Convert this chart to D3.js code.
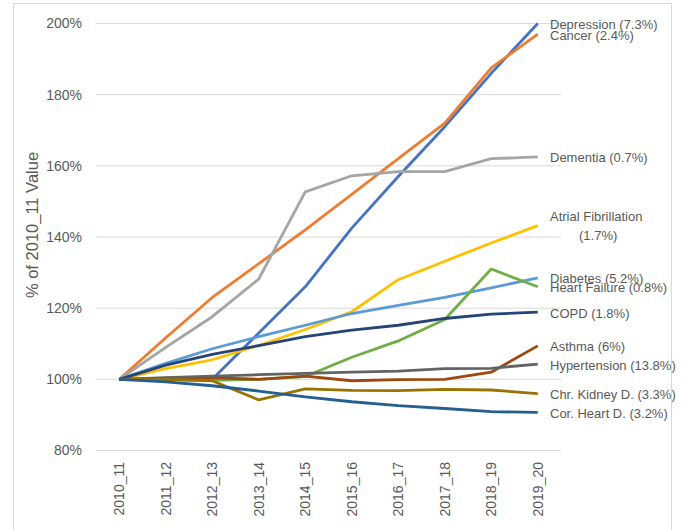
<!DOCTYPE html>
<html>
<head>
<meta charset="utf-8">
<script src="https://cdn.jsdelivr.net/npm/d3@7"></script>
<style>
  body { margin: 0; background: #fff; }
  text { font-family: "Liberation Sans", Arial, sans-serif; fill: #595959; }
</style>
</head>
<body>
<script>
const years = ['2010_11', '2011_12', '2012_13', '2013_14', '2014_15', '2015_16', '2016_17', '2017_18', '2018_19', '2019_20'];
const yTicks = [80, 100, 120, 140, 160, 180, 200];

const depression = [100, 100, 100, 113, 126, 142.5, 157, 171, 186, 200];
const cancer = [100, 111.7, 123, 132.5, 142, 152, 162, 172, 187.5, 197];
const dementia = [100, 109, 117.6, 128.2, 152.7, 157.2, 158.4, 158.4, 162, 162.5];
const atrialFib = [100, 103, 105.5, 109.5, 114, 119, 128, 133.2, 138.3, 143.2];
const diabetes = [100, 104.5, 108.6, 112, 115.2, 118.5, 120.8, 123, 125.7, 128.5];
const heartFailure = [100, 100, 99.7, 100, 100.8, 106.2, 110.8, 116.8, 131, 126];
const copd = [100, 104, 107, 109.5, 112, 113.8, 115.2, 117.1, 118.3, 118.9];
const asthma = [100, 100.3, 100.5, 100, 100.9, 99.6, 99.9, 100, 102, 109.4];
const hypertension = [100, 100.5, 100.9, 101.3, 101.7, 102, 102.3, 103, 103.1, 104.3];
const kidney = [100, 99.9, 99.6, 94.2, 97.3, 96.9, 96.8, 97.2, 97.0, 96.0];
const corHeart = [100, 99.3, 98.2, 96.7, 95.1, 93.7, 92.6, 91.8, 90.9, 90.7];

const series = [
  { name: ['Depression (7.3%)'], values: depression, color: '#4472C4' },
  { name: ['Cancer (2.4%)'], values: cancer, color: '#ED7D31' },
  { name: ['Dementia (0.7%)'], values: dementia, color: '#A5A5A5' },
  { name: ['Atrial Fibrillation', '(1.7%)'], values: atrialFib, color: '#FFC000' },
  { name: ['Diabetes (5.2%)'], values: diabetes, color: '#5B9BD5' },
  { name: ['Heart Failure (0.8%)'], values: heartFailure, color: '#70AD47' },
  { name: ['COPD (1.8%)'], values: copd, color: '#264478' },
  { name: ['Asthma (6%)'], values: asthma, color: '#9E480E' },
  { name: ['Hypertension (13.8%)'], values: hypertension, color: '#636363' },
  { name: ['Chr. Kidney D. (3.3%)'], values: kidney, color: '#997300' },
  { name: ['Cor. Heart D. (3.2%)'], values: corHeart, color: '#255E91' }
];

const WIDTH = 681, HEIGHT = 530;

const svg = d3.select('body').append('svg')
  .attr('width', WIDTH)
  .attr('height', HEIGHT);

// chart border
svg.append('rect')
  .attr('x', 13.5).attr('y', 3.5)
  .attr('width', 658).attr('height', 540)
  .attr('fill', 'none')
  .attr('stroke', '#D9D9D9');

const x = d3.scaleBand().domain(years).range([96, 561]);
const y = d3.scaleLinear().domain([80, 200]).range([450.5, 23.5]);
const cx = (d) => x(d) + x.bandwidth() / 2;

// gridlines
svg.append('g')
  .selectAll('line')
  .data(yTicks)
  .join('line')
  .attr('x1', 96).attr('x2', 561)
  .attr('y1', (d) => y(d)).attr('y2', (d) => y(d))
  .attr('stroke', '#D9D9D9')
  .attr('stroke-width', 1);

// y tick labels
svg.append('g')
  .selectAll('text')
  .data(yTicks)
  .join('text')
  .attr('x', 82)
  .attr('y', (d) => y(d))
  .attr('dy', '0.35em')
  .attr('text-anchor', 'end')
  .style('font-size', '14px')
  .text((d) => d + '%');

// x tick labels
svg.append('g')
  .selectAll('text')
  .data(years)
  .join('text')
  .attr('transform', (d) => `translate(${cx(d)}, 462) rotate(-90)`)
  .attr('dy', '0.35em')
  .attr('text-anchor', 'end')
  .style('font-size', '14px')
  .text((d) => d);

// y axis title
svg.append('text')
  .attr('transform', 'translate(32, 225) rotate(-90)')
  .attr('dy', '0.35em')
  .attr('text-anchor', 'middle')
  .style('font-size', '16.5px')
  .text('% of 2010_11 Value');

const line = d3.line()
  .x((d, i) => cx(years[i]))
  .y((d) => y(d));

svg.append('g')
  .selectAll('path')
  .data(series)
  .join('path')
  .attr('d', (d) => line(d.values))
  .attr('fill', 'none')
  .attr('stroke', (d) => d.color)
  .attr('stroke-width', 2.8)
  .attr('stroke-linejoin', 'round');

// end labels
const labels = svg.append('g')
  .selectAll('text')
  .data(series)
  .join('text')
  .attr('x', 550)
  .attr('y', (d) => y(d.values[d.values.length - 1]) + 1)
  .style('font-size', '13px');

labels.each(function (d) {
  const t = d3.select(this);
  if (d.name.length === 1) {
    t.append('tspan').attr('dy', '0.35em').text(d.name[0]);
  } else {
    t.append('tspan').attr('dy', '-0.4em').text(d.name[0]);
    t.append('tspan').attr('x', 579).attr('dy', '1.45em').text(d.name[1]);
  }
});
</script>
</body>
</html>
